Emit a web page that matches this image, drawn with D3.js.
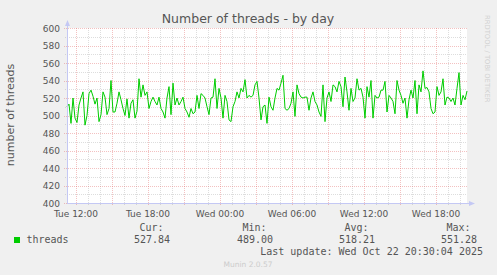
<!DOCTYPE html>
<html><head><meta charset="utf-8">
<script src="https://cdn.jsdelivr.net/npm/d3@7/dist/d3.min.js"></script>
<style>body{margin:0;background:#f0f0f0;overflow:hidden}</style>
</head><body><svg id="c" width="497" height="275"></svg>
<script>
// ---- data ----
const title = "Number of threads - by day";
const yLabel = "number of threads";
const seriesName = "threads";
const startTime = "2025-10-21T11:15:00Z";
const stepMinutes = 10;
const threads = [
510,513,491,520,497,492,512,520,527,489,500,525,529,522,513,520,493,501,527,521,501,508,540,504,504,514,527,518,508,500,519,497,514,518,497,
505,542,521,535,523,527,508,516,521,516,512,521,508,504,497,520,533,501,537,512,520,512,516,521,508,504,498,508,502,504,523,508,525,523,
520,510,501,520,521,542,508,531,520,497,523,516,495,493,510,516,527,520,531,527,541,520,523,521,523,535,539,520,495,510,512,491,521,510,
506,520,531,529,537,546,508,506,508,514,527,499,535,525,521,520,521,521,506,520,527,516,512,504,499,535,493,520,527,516,535,533,527,539,
533,510,544,527,506,531,516,520,542,529,531,521,497,533,521,540,497,523,520,521,529,529,539,504,523,520,516,502,540,529,523,514,520,497,
518,529,520,540,502,535,527,551,531,532,527,508,502,504,533,523,527,542,512,521,520,516,520,512,531,549,512,523,518,528
];
const yDomain = [400, 600];
const yTicks = [400,420,440,460,480,500,520,540,560,580,600];
const yMinorTicks = [410,430,450,470,490,510,530,550,570,590];
const xLabelFormat = "%a %H:%M";
const legendHeaders = ["Cur:", "Min:", "Avg:", "Max:"];
const legendValues = ["527.84", "489.00", "518.21", "551.28"];
const lastUpdate = "Last update: Wed Oct 22 20:30:04 2025";
const footer = "Munin 2.0.57";
const watermark = "RRDTOOL / TOBI OETIKER";

// ---- layout ----
const svg = d3.select("#c");
const L = 67, R = 467, T = 28, B = 203;
const t0 = new Date(startTime);
const timeAt = i => new Date(t0.getTime() + i * stepMinutes * 60000);
const tEnd = timeAt(threads.length - 1);
const x = d3.scaleUtc().domain([t0, tEnd]).range([L, R]);
const y = d3.scaleLinear().domain(yDomain).range([B, T]);
const sans = "DejaVu Sans, sans-serif", mono = "DejaVu Sans Mono, monospace";
const txt = "#555";

svg.append("rect").attr("width", 497).attr("height", 275).attr("fill", "#f0f0f0");
svg.append("rect").attr("x", L).attr("y", T).attr("width", R - L).attr("height", B - T).attr("fill", "#fff");

const hours = d3.utcHour.every(1).range(t0, tEnd);
const major = hours.filter(d => d.getUTCHours() % 3 === 0);
const minor = hours.filter(d => d.getUTCHours() % 3 !== 0);
const labelled = hours.filter(d => d.getUTCHours() % 6 === 0);
const px = v => Math.round(v) + 0.5;
const minorCol = "rgba(150,150,150,0.32)", majorCol = "rgba(225,100,100,0.4)";

const g = svg.append("g").attr("shape-rendering", "crispEdges");
// minor grid
g.selectAll(".vm").data(minor).join("line")
  .attr("x1", d => px(x(d))).attr("x2", d => px(x(d))).attr("y1", T).attr("y2", B + 2)
  .attr("stroke", minorCol).attr("stroke-dasharray", "1,1");
g.selectAll(".hm").data(yMinorTicks).join("line")
  .attr("x1", L - 2).attr("x2", R).attr("y1", d => px(y(d))).attr("y2", d => px(y(d)))
  .attr("stroke", minorCol).attr("stroke-dasharray", "1,1");
// major grid
g.selectAll(".vM").data(major).join("line")
  .attr("x1", d => px(x(d))).attr("x2", d => px(x(d))).attr("y1", T).attr("y2", B + 3)
  .attr("stroke", majorCol).attr("stroke-dasharray", "1,1");
g.selectAll(".hM").data(yTicks).join("line")
  .attr("x1", L - 3).attr("x2", R).attr("y1", d => px(y(d))).attr("y2", d => px(y(d)))
  .attr("stroke", majorCol).attr("stroke-dasharray", "1,1");

// series line
svg.append("path").datum(threads)
  .attr("d", d3.line().x((d, i) => x(timeAt(i))).y(d => y(d)))
  .attr("fill", "none").attr("stroke", "#00cc00").attr("stroke-width", 1);

// axes
const axisCol = "#c4c8f4";
svg.append("line").attr("x1", L + 0.5).attr("x2", L + 0.5).attr("y1", B).attr("y2", T - 5).attr("stroke", axisCol);
svg.append("path").attr("d", `M${L - 2},${T - 2} L${L + 0.5},${T - 8} L${L + 3},${T - 2} Z`).attr("fill", axisCol);
svg.append("line").attr("x1", L).attr("x2", R + 4).attr("y1", B + 0.5).attr("y2", B + 0.5).attr("stroke", axisCol);
svg.append("path").attr("d", `M${R + 2},${B - 2} L${R + 8},${B + 0.5} L${R + 2},${B + 3} Z`).attr("fill", axisCol);

// tick labels
svg.selectAll(".yl").data(yTicks).join("text")
  .attr("x", 60).attr("y", d => y(d) + 3.5).attr("text-anchor", "end")
  .attr("font-family", sans).attr("font-size", 9).attr("fill", txt).text(d => d);
const fmt = d3.utcFormat(xLabelFormat);
svg.selectAll(".xl").data(labelled).join("text")
  .attr("x", d => x(d)).attr("y", 216.5).attr("text-anchor", "middle")
  .attr("font-family", sans).attr("font-size", 9).attr("fill", txt).text(d => fmt(d));

// title & labels
svg.append("text").attr("x", 248).attr("y", 23).attr("text-anchor", "middle")
  .attr("font-family", sans).attr("font-size", 12.5).attr("fill", txt).text(title);
svg.append("text").attr("transform", "translate(14,115) rotate(-90)").attr("text-anchor", "middle")
  .attr("font-family", sans).attr("font-size", 11).attr("fill", txt).text(yLabel);
svg.append("text").attr("transform", "translate(484.5,15) rotate(90)").attr("text-anchor", "start")
  .attr("font-family", sans).attr("font-size", 6.8).attr("fill", "#d0d0d0").text(watermark);

// legend
svg.append("rect").attr("x", 14).attr("y", 237).attr("width", 6).attr("height", 6).attr("fill", "#00cc00");
svg.append("text").attr("x", 26.5).attr("y", 243).attr("font-family", mono).attr("font-size", 10).attr("fill", txt).text(seriesName);
const colRight = [170, 273, 375, 477];
legendHeaders.forEach((h, i) => {
  svg.append("text").attr("x", colRight[i] - 6.5).attr("y", 231).attr("text-anchor", "end")
    .attr("font-family", mono).attr("font-size", 10).attr("fill", txt).text(h);
  svg.append("text").attr("x", colRight[i]).attr("y", 243).attr("text-anchor", "end")
    .attr("font-family", mono).attr("font-size", 10).attr("fill", txt).text(legendValues[i]);
});
svg.append("text").attr("x", 483).attr("y", 255).attr("text-anchor", "end")
  .attr("font-family", mono).attr("font-size", 10).attr("fill", txt).text(lastUpdate);
svg.append("text").attr("x", 248).attr("y", 267).attr("text-anchor", "middle")
  .attr("font-family", sans).attr("font-size", 7.5).attr("fill", "#cccccc").text(footer);
</script></body></html>
